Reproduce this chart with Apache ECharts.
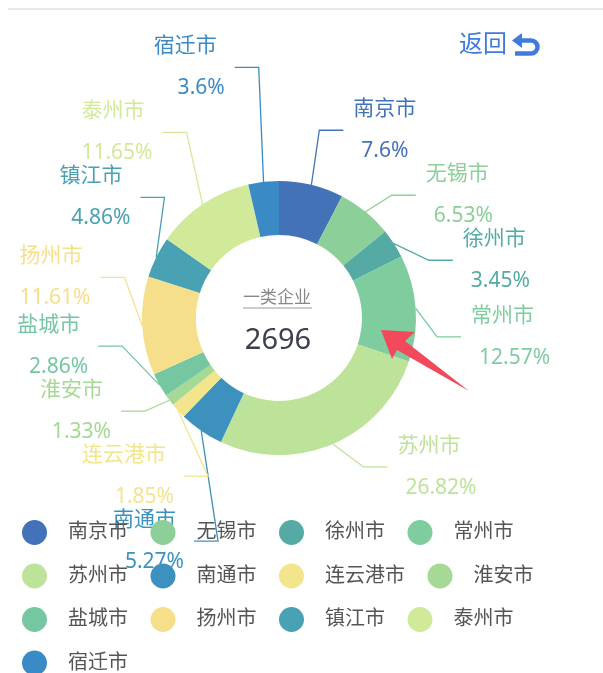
<!DOCTYPE html>
<html>
<head>
<meta charset="utf-8">
<script src="https://cdn.jsdelivr.net/npm/echarts@6/dist/echarts.min.js"></script>
<style>
html,body{margin:0;padding:0;background:#fff;}
#chart{width:603px;height:673px;}
</style>
</head>
<body>
<div id="chart"></div>
<script>
// ---- data ----
const cities = ['南京市','无锡市','徐州市','常州市','苏州市','南通市','连云港市','淮安市','盐城市','扬州市','镇江市','泰州市','宿迁市'];
const shares = [7.6, 6.53, 3.45, 12.57, 26.82, 5.27, 1.85, 1.33, 2.86, 11.61, 4.86, 11.65, 3.6];
const centerTitle = '一类企业';
const centerTotal = '2696';
const backText = '返回';

// ---- palette ----
const palette = ['#4472b8','#8ccf98','#55aaa4','#7fcd9f','#bde39a','#3d91bf','#f2e58b','#a6d896','#75c7a2','#f5df8b','#48a2b3','#d1ea99','#3a8bc5'];

const FONT = "'Noto Sans', 'Noto Sans CJK SC', sans-serif";
const BLUE = '#3f7bdf';

// pie geometry / label line settings
const CX = 279, CY = 318, R_IN = 83, R_OUT = 137;
const LINE_LEN = 25, LINE_LEN2 = 24, LABEL_H = 65, VIEW_H = 673;

const chart = echarts.init(document.getElementById('chart'), null, {renderer: 'canvas'});

const seriesData = cities.map((c, i) => ({name: c, value: shares[i], label: {color: palette[i]}}));

// first pass: record the library's natural label line geometry
const natural = [];
function recordLayout(p) {
  if (p.labelLinePoints) natural[p.dataIndex] = p.labelLinePoints.map(q => q.slice());
  return {};
}

chart.setOption({
  animation: false,
  color: palette,
  legend: {
    data: cities,
    left: 22,
    top: 516,
    padding: 0,
    icon: 'circle',
    itemWidth: 25,
    itemHeight: 25,
    itemGap: 10.5,
    textStyle: {
      fontFamily: FONT,
      fontSize: 20,
      color: '#555',
      lineHeight: 33,
      padding: [0, 12, 0, 16]
    }
  },
  graphic: [
    {type: 'line', shape: {x1: 8, y1: 9, x2: 603, y2: 9}, style: {stroke: '#e8e8e8', lineWidth: 2}, silent: true},
    {type: 'text', x: 459, y: 45, style: {text: backText, font: '24px ' + FONT, fill: BLUE, verticalAlign: 'middle'}},
    {type: 'polygon', shape: {points: [[512, 40.5], [522, 33], [522, 48]]}, style: {fill: BLUE}},
    {type: 'polyline', shape: {points: [[520, 40.5], [531, 40.5]]}, style: {stroke: BLUE, lineWidth: 4.5}},
    {type: 'arc', shape: {cx: 531, cy: 47, r: 6.5, startAngle: -Math.PI / 2, endAngle: Math.PI / 2, clockwise: true}, style: {stroke: BLUE, lineWidth: 4.5, fill: null}},
    {type: 'polyline', shape: {points: [[531, 53.5], [515, 53.5]]}, style: {stroke: BLUE, lineWidth: 4.5}},
    {type: 'text', x: 277, y: 298, style: {text: centerTitle, font: '17px ' + FONT, fill: '#888', align: 'center', verticalAlign: 'middle'}, z: 10},
    {type: 'line', shape: {x1: 243, y1: 308, x2: 312, y2: 308}, style: {stroke: '#999', lineWidth: 1}, z: 10},
    {type: 'text', x: 278, y: 341, style: {text: centerTotal, font: '29px ' + FONT, fill: '#3d404e', align: 'center', verticalAlign: 'middle'}, z: 10},
    {type: 'polygon', shape: {points: [[381, 330], [415, 332], [405, 341], [469, 391], [397, 350], [392, 359]]}, style: {fill: '#f24a5b'}, z: 20}
  ],
  series: [{
    type: 'pie',
    center: [CX, CY],
    radius: [R_IN, R_OUT],
    startAngle: 90,
    avoidLabelOverlap: false,
    data: seriesData,
    label: {
      show: true,
      position: 'outside',
      formatter: '{n|{b}}\n\n{p|{d}%}',
      fontFamily: FONT,
      fontSize: 21,
      lineHeight: 21,
      rich: {
        n: {fontFamily: FONT, fontSize: 21, lineHeight: 21, padding: [0, 8, 0, 0]},
        p: {fontFamily: FONT, fontSize: 21, lineHeight: 21, padding: [0, 0, 0, 8]}
      }
    },
    labelLine: {
      show: true,
      length: LINE_LEN,
      length2: LINE_LEN2,
      lineStyle: {width: 1.3}
    },
    labelLayout: recordLayout,
    emphasis: {disabled: true}
  }]
});

// classic (ECharts 4 style) pie label overlap avoidance, applied to the library's own label geometry
function adjustSide(list, dir) {
  if (!list.length) return;
  list.sort((a, b) => a.y - b.y);
  const h = LABEL_H;
  function shiftUp(end, delta) {
    for (let j = end; j >= 0; j--) {
      list[j].y -= delta;
      if (j > 0 && list[j].y > list[j - 1].y + h) break;
    }
  }
  function shiftDown(start, end, delta) {
    for (let j = start; j < end; j++) {
      list[j].y += delta;
      if (j > start && j + 1 < end && list[j + 1].y > list[j].y + h) {
        shiftUp(j, delta / 2);
        return;
      }
    }
    shiftUp(end - 1, delta / 2);
  }
  let lastY = 0;
  for (let i = 0; i < list.length; i++) {
    const d = list[i].y - lastY;
    if (d < 0) shiftDown(i, list.length, -d);
    lastY = list[i].y + h;
  }
  if (VIEW_H - lastY < 0) shiftUp(list.length - 1, lastY - VIEW_H);
  function changeX(items, isDown) {
    let last = isDown ? Number.MAX_VALUE : 0;
    for (const it of items) {
      const dy = Math.abs(it.y - CY);
      const rr = R_OUT + LINE_LEN + LINE_LEN2;
      let dx = dy < R_OUT + LINE_LEN ? Math.sqrt(rr * rr - dy * dy) : Math.abs(it.x - CX);
      if (isDown && dx >= last) dx = last - 10;
      if (!isDown && dx <= last) dx = last + 10;
      it.x = CX + dx * dir;
      last = dx;
    }
  }
  changeX(list.filter(it => it.y < CY), false);
  changeX(list.filter(it => it.y >= CY), true);
}

const items = [];
natural.forEach((pts, i) => {
  if (!pts) return;
  const dir = pts[2][0] >= pts[1][0] ? 1 : -1;
  items.push({i, dir, p1: pts[0], x: pts[2][0] + dir * 5, y: pts[2][1]});
});
adjustSide(items.filter(it => it.dir > 0), 1);
adjustSide(items.filter(it => it.dir < 0), -1);

const computed = [];
items.forEach(it => {
  const x3 = it.x - it.dir * 3;
  const x2 = x3 - it.dir * LINE_LEN2;
  computed[it.i] = {
    x: x3 + it.dir * 10,
    y: it.y,
    align: it.dir > 0 ? 'left' : 'right',
    verticalAlign: 'middle',
    labelLinePoints: [it.p1, [x2, it.y], [x3, it.y]]
  };
});

chart.setOption({series: [{labelLayout: p => computed[p.dataIndex] || {}}]});
</script>
</body>
</html>
